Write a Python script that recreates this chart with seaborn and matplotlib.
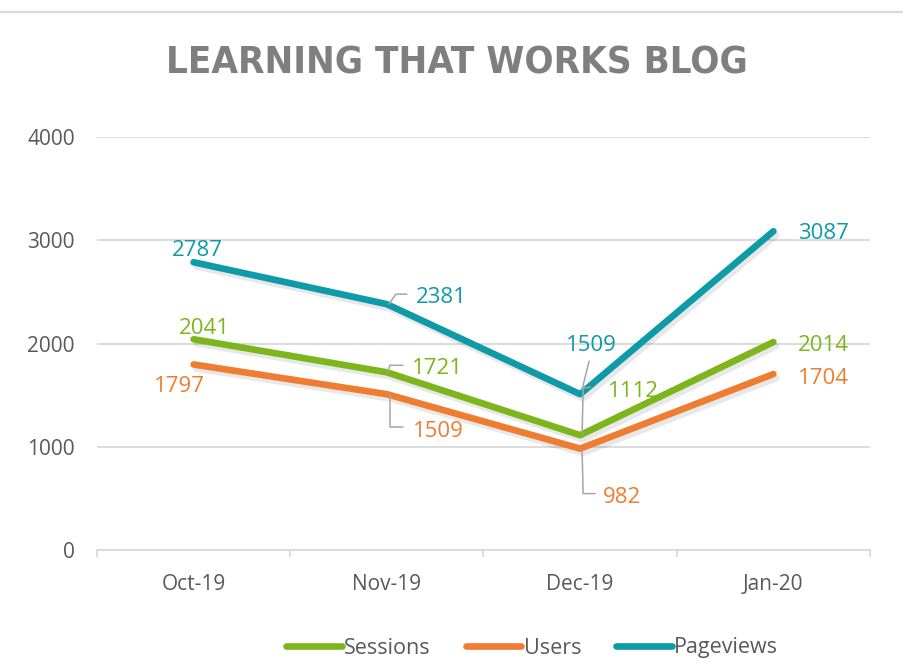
import matplotlib
matplotlib.use('Agg')
import matplotlib.pyplot as plt
import seaborn as sns
import pandas as pd
from matplotlib.lines import Line2D
from matplotlib.transforms import IdentityTransform
import matplotlib.patheffects as pe
from matplotlib import font_manager as fm

# ---- data ----
months = ["Oct-19", "Nov-19", "Dec-19", "Jan-20"]
sessions = [2041, 1721, 1112, 2014]
users = [1797, 1509, 982, 1704]
pageviews = [2787, 2381, 1509, 3087]
series_names = ["Sessions", "Users", "Pageviews"]
yticks = [0, 1000, 2000, 3000, 4000]
title = "LEARNING THAT WORKS BLOG"

# ---- style ----
colors = {"Sessions": "#7db61c", "Users": "#ee7d31", "Pageviews": "#0e9aa7"}
GRID = "#d9d9d9"

sns.set_theme(style="white")
plt.rcParams['font.family'] = ['Open Sans', 'DejaVu Sans']

# pick a condensed bold font for the title if one is installed
cond = [f for f in fm.fontManager.ttflist
        if (f.stretch in ("condensed", "semi-condensed", "extra-condensed") or "Condensed" in f.name
            or "Narrow" in f.name)
        and (f.weight in ("bold", 700, "semibold", 600) or (isinstance(f.weight, int) and f.weight >= 600))]
if cond:
    title_kw = dict(fontproperties=fm.FontProperties(fname=cond[0].fname, size=27.5))
else:
    title_kw = dict(family=["Roboto", "DejaVu Sans"], fontsize=26, fontweight="bold")

W, H = 904, 669
fig = plt.figure(figsize=(W / 100, H / 100), dpi=100)
ax = fig.add_axes([97 / W, 1 - 550 / H, (870 - 97) / W, (550 - 137) / H])

df = pd.DataFrame({
    "Month": months * 3,
    "Value": sessions + users + pageviews,
    "Series": [s for s in series_names for _ in months],
})
sns.lineplot(data=df, x="Month", y="Value", hue="Series", hue_order=series_names,
             palette=colors, linewidth=4.8, sort=False, ax=ax, legend=False)
for ln in ax.lines:
    ln.set_solid_capstyle("round")
    ln.set_path_effects([pe.SimpleLineShadow(offset=(2, -3), shadow_color="#000000", alpha=0.09),
                         pe.Normal()])

ax.set_xlim(-0.5, 3.5)
ax.set_ylim(0, 4000)
ax.set_yticks(yticks)
ax.set_yticklabels([str(v) for v in yticks])
ax.set_xlabel("")
ax.set_ylabel("")
ax.grid(axis="y", color=GRID, linewidth=1.3)
ax.grid(axis="x", visible=False)
ax.set_axisbelow(True)
for s in ["left", "right", "top"]:
    ax.spines[s].set_visible(False)
ax.spines["bottom"].set_color(GRID)
ax.spines["bottom"].set_linewidth(1.3)
ax.tick_params(axis="y", length=0, pad=16, labelsize=15, labelcolor="#595959")
ax.tick_params(axis="x", which="major", length=0, pad=17, labelsize=15, labelcolor="#595959")
ax.set_xticks([-0.5, 0.5, 1.5, 2.5, 3.5], minor=True)
ax.tick_params(axis="x", which="minor", length=5, width=1.3, color=GRID, direction="out", bottom=True)

# ---- data labels (offsets in pixels, image coords: +y down) ----
label_offsets = {
    "Pageviews": [(4, -12), (54, -7), (11, -49), (50, 2)],
    "Sessions": [(11, -11), (51, -4), (53, -44), (50, 3)],
    "Users": [(-14, 22), (52, 37), (42, 49), (50, 4)],
}
leaders = {
    ("Pageviews", 1): [(2, 0), (9, -10), (20, -10)],
    ("Pageviews", 2): [(2, -5), (9, -33)],
    ("Sessions", 1): [(1, -1), (3, -7), (16, -7)],
    ("Users", 1): [(3, 1), (3, 33), (16, 33)],
    ("Sessions", 2): [(2, -1), (3, -47), (10, -48)],
    ("Users", 2): [(2, 2), (3, 45), (15, 45)],
}
values = {"Sessions": sessions, "Users": users, "Pageviews": pageviews}
for name in series_names:
    for i, v in enumerate(values[name]):
        dx, dy = label_offsets[name][i]
        ax.annotate(str(v), xy=(i, v), xytext=(dx, -dy), textcoords="offset pixels",
                    ha="center", va="center", fontsize=16, color=colors[name])
        if (name, i) in leaders:
            px, py = ax.transData.transform((i, v))
            pts = leaders[(name, i)]
            fig.add_artist(Line2D([px + a for a, b in pts], [py - b for a, b in pts],
                                  transform=IdentityTransform(), color="#a6a6a6", lw=1.1))

# ---- title and top rule ----
fig.add_artist(Line2D([0, 1], [1 - 12 / H] * 2, transform=fig.transFigure, color=GRID, lw=1.6))
fig.text(0.505, 1 - 63 / H, title, ha="center", va="center", color="#7f7f7f", **title_kw)

# ---- legend ----
handles = [Line2D([0], [0], color=colors[n], lw=4.8, solid_capstyle="round") for n in series_names]
fig.legend(handles, series_names, loc="center", bbox_to_anchor=(532 / W, 1 - 648 / H),
           ncol=3, frameon=False, fontsize=15.5, labelcolor="#595959",
           handlelength=2.6, handletextpad=0.1, columnspacing=1.6)

fig.savefig("out.png", dpi=100)
